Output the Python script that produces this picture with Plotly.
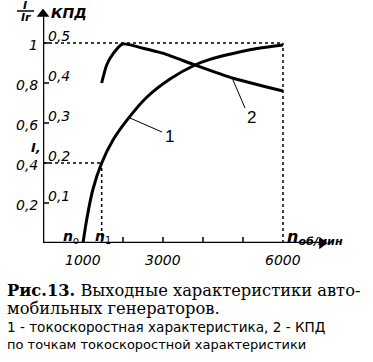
import plotly.graph_objects as go

# ---- data ----
rpm_current = [1000, 1100, 1250, 1467, 1750, 2133, 2600, 3175, 3800, 4175, 4700, 5350, 6000]
current_ratio = [0.0, 0.125, 0.27, 0.40, 0.515, 0.623, 0.73, 0.82, 0.89, 0.918, 0.945, 0.972, 0.99]

rpm_eff = [1467, 1592, 1758, 1992, 2500, 3008, 3800, 4750, 6000]
efficiency = [0.40, 0.445, 0.474, 0.4975, 0.487, 0.474, 0.445, 0.412, 0.38]

n0 = 1000
n1 = 1467
n_max = 6000
i1 = 0.4

left_ticks = [0.2, 0.4, 0.6, 0.8, 1.0]
left_labels = ["0,2", "0,4", "0,6", "0,8", "1"]
kpd_ticks = [0.1, 0.2, 0.3, 0.4, 0.5]
kpd_labels = ["0,1", "0,2", "0,3", "0,4", "0,5"]
x_minor_ticks = [2000, 3000, 4000, 5000]
x_label_vals = [1000, 3000, 6000]
x_labels = ["1000", "3000", "6000"]

caption = [
    "<b>Рис.13.</b> Выходные характеристики авто-",
    "мобильных генераторов.",
    "1 - токоскоростная характеристика, 2 - КПД",
    "по точкам токоскоростной характеристики",
]

# ---- geometry ----
W, H = 373, 362
L, R, T, B = 43, 46, 8, 119
XMAX = 7100
YMAX = 1.175
PW = W - L - R
PH = H - T - B

def px_to_x(px):
    return (px - L) / PW * XMAX

def py_to_y(py):
    return (H - B - py) / PH * YMAX

def pxp(px):
    return (px - L) / PW

def pyp(py):
    return (H - B - py) / PH

ITAL = "DejaVu Sans"
BLACK = "black"

fig = go.Figure()

fig.add_trace(go.Scatter(x=rpm_current, y=current_ratio, mode="lines",
                         line=dict(color=BLACK, width=3, shape="spline", smoothing=1.0),
                         hoverinfo="skip", showlegend=False))
fig.add_trace(go.Scatter(x=rpm_eff, y=efficiency, mode="lines", yaxis="y2",
                         line=dict(color=BLACK, width=3, shape="spline", smoothing=0.6),
                         hoverinfo="skip", showlegend=False))
# arrowheads of the axes
fig.add_trace(go.Scatter(x=[px_to_x(322)], y=[0], mode="markers", cliponaxis=False,
                         marker=dict(symbol="triangle-right", size=11, color=BLACK),
                         hoverinfo="skip", showlegend=False))
fig.add_trace(go.Scatter(x=[0], y=[py_to_y(14)], mode="markers", cliponaxis=False,
                         marker=dict(symbol="triangle-up", size=11, color=BLACK),
                         hoverinfo="skip", showlegend=False))

shapes = []
axis_line = dict(color=BLACK, width=2.5)
shapes.append(dict(type="line", xref="x", yref="y", x0=0, x1=px_to_x(320), y0=0, y1=0, line=axis_line))
shapes.append(dict(type="line", xref="x", yref="y", x0=0, x1=0, y0=0, y1=py_to_y(16), line=axis_line))
dash = dict(color=BLACK, width=1.5, dash="3px,3px")
# dashed guide lines
shapes.append(dict(type="line", xref="x", yref="y", x0=0, x1=n_max, y0=1.0, y1=1.0, line=dash))
shapes.append(dict(type="line", xref="x", yref="y", x0=n_max, x1=n_max, y0=0, y1=1.0, line=dash))
shapes.append(dict(type="line", xref="x", yref="y", x0=0, x1=n1, y0=i1, y1=i1, line=dash))
shapes.append(dict(type="line", xref="x", yref="y", x0=n1, x1=n1, y0=0, y1=i1, line=dash))
# y ticks (pointing right)
for t in left_ticks:
    shapes.append(dict(type="line", xref="x", yref="y", x0=0, x1=px_to_x(L + 6), y0=t, y1=t,
                       line=dict(color=BLACK, width=1.5)))
# x ticks (pointing up)
for t in x_minor_ticks:
    shapes.append(dict(type="line", xref="x", yref="y", x0=t, x1=t, y0=0, y1=py_to_y(H - B - 6),
                       line=dict(color=BLACK, width=1.5)))
# leader lines
shapes.append(dict(type="line", xref="x", yref="y", x0=px_to_x(130), y0=py_to_y(118),
                   x1=px_to_x(162), y1=py_to_y(132), line=dict(color=BLACK, width=1)))
shapes.append(dict(type="line", xref="x", yref="y", x0=px_to_x(233), y0=py_to_y(80),
                   x1=px_to_x(245), y1=py_to_y(108), line=dict(color=BLACK, width=1)))
# fraction bar
shapes.append(dict(type="line", xref="paper", yref="paper", x0=pxp(17), x1=pxp(34),
                   y0=pyp(11), y1=pyp(11), line=dict(color=BLACK, width=1.5)))

ann = []

def txt(px, py, s, size=14, xanchor="center", family=ITAL, color=BLACK):
    ann.append(dict(x=pxp(px), y=pyp(py), xref="paper", yref="paper", text=s, showarrow=False,
                    xanchor=xanchor, yanchor="middle", font=dict(family=family, size=size, color=color)))

for t, lab in zip(left_ticks, left_labels):
    ann.append(dict(x=0, y=t, xref="x", yref="y", text="<i>" + lab + "</i>", showarrow=False,
                    xanchor="right", yanchor="middle", xshift=-3, yshift=-2,
                    font=dict(family=ITAL, size=14, color=BLACK)))
for t, lab in zip(kpd_ticks, kpd_labels):
    ann.append(dict(x=0, y=t, xref="x", yref="y2", text="<i>" + lab + "</i>", showarrow=False,
                    xanchor="left", yanchor="middle", xshift=3, yshift=7,
                    font=dict(family=ITAL, size=14, color=BLACK)))
for v, lab in zip(x_label_vals, x_labels):
    ann.append(dict(x=v, y=0, xref="x", yref="y", text="<i>" + lab + "</i>", showarrow=False,
                    xanchor="center", yanchor="middle", yshift=-17,
                    font=dict(family=ITAL, size=14, color=BLACK)))

txt(25, 5, "<b><i>I</i></b>", size=11)
txt(26, 18, "<b><i>Ir</i></b>", size=11)
txt(49, 13, "<b><i>КПД</i></b>", size=14, xanchor="left")
txt(36, 147, "<b><i>I,</i></b>", size=13)
txt(71, 237, "<b><i>n</i></b><sub>o</sub>", size=14)
txt(103, 237, "<b><i>n</i></b><sub>1</sub>", size=14)
txt(285, 237, "<b><i>n</i></b><sub><b><i>об/мин</i></b></sub>", size=16, xanchor="left")
txt(169, 136, "1", size=17, family="Liberation Sans")
txt(251, 117, "2", size=17, family="Liberation Sans")

cap_y = [290, 308, 327, 344]
cap_size = [16.3, 16.3, 13.6, 13]
cap_font = ["DejaVu Serif", "DejaVu Serif", "DejaVu Sans", "DejaVu Sans"]
for line, yy, sz, fam in zip(caption, cap_y, cap_size, cap_font):
    txt(5, yy, line, size=sz, xanchor="left", family=fam)

fig.update_layout(
    width=W, height=H,
    margin=dict(l=L, r=R, t=T, b=B),
    paper_bgcolor="white", plot_bgcolor="white",
    xaxis=dict(range=[0, XMAX], visible=False, fixedrange=True),
    yaxis=dict(range=[0, YMAX], visible=False, fixedrange=True),
    yaxis2=dict(range=[0, YMAX / 2], visible=False, overlaying="y", fixedrange=True),
    shapes=shapes, annotations=ann, showlegend=False,
)

fig.write_html("out.html", config={"displayModeBar": False},
               post_script="document.body.style.margin='0';document.body.style.padding='0';")
